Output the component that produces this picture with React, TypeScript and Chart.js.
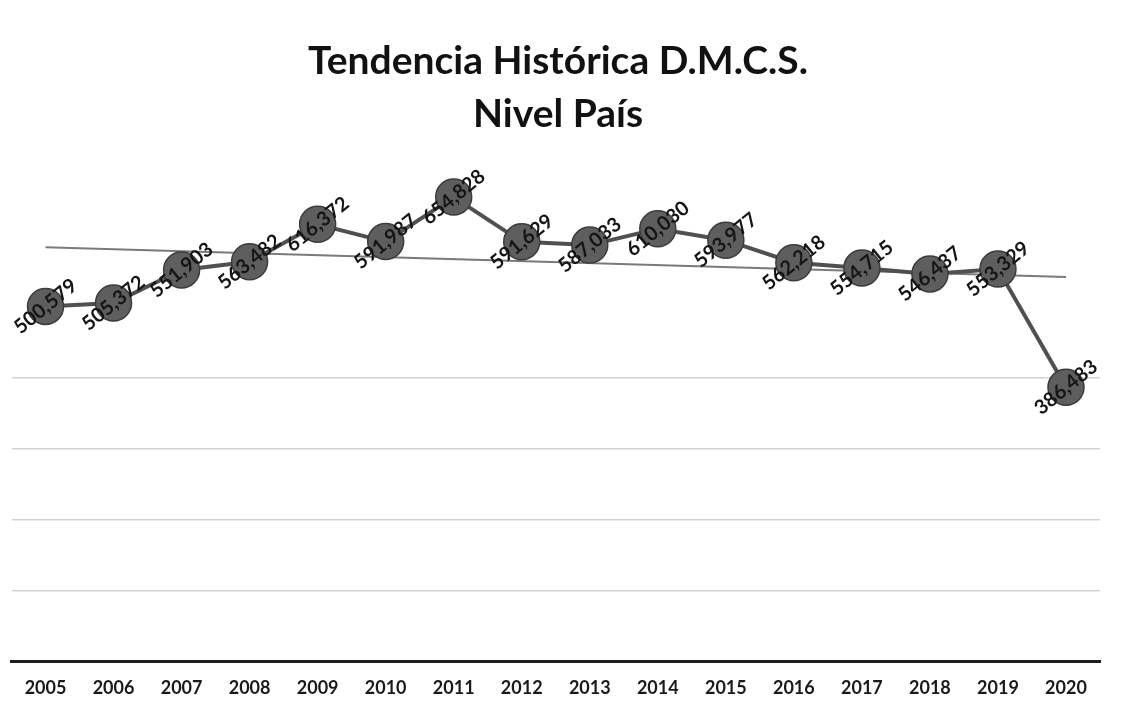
import React, { useEffect, useRef } from "react";
import { Chart, registerables } from "chart.js";

Chart.register(...registerables);

const years = ["2005","2006","2007","2008","2009","2010","2011","2012","2013","2014","2015","2016","2017","2018","2019","2020"];
const values = [500579, 505372, 551903, 563482, 616372, 591987, 654828, 591629, 587033, 610030, 593977, 562218, 554715, 546437, 553329, 386483];
const trendEnds = [584000, 542000];
const titleLines = ["Tendencia Histórica D.M.C.S.", "Nivel País"];

const fmt = (v: number) => v.toLocaleString("en-US");

const labelPlugin = {
  id: "rotLabels",
  afterDatasetsDraw(chart: any) {
    const ctx = chart.ctx;
    const meta = chart.getDatasetMeta(1);
    ctx.save();
    ctx.font = "bold 20px Lato, 'Open Sans', sans-serif";
    ctx.fillStyle = "#151515";
    ctx.textAlign = "center";
    ctx.textBaseline = "middle";
    meta.data.forEach((pt: any, i: number) => {
      ctx.save();
      ctx.translate(pt.x, pt.y);
      ctx.rotate(-39 * Math.PI / 180);
      ctx.fillText(fmt(values[i]), 0, 0);
      ctx.restore();
    });
    ctx.restore();
  },
};

const titlePlugin = {
  id: "twoLineTitle",
  afterDraw(chart: any) {
    const ctx = chart.ctx;
    ctx.save();
    ctx.font = "bold 39px Lato, 'Open Sans', sans-serif";
    ctx.fillStyle = "#111";
    ctx.textAlign = "center";
    ctx.textBaseline = "alphabetic";
    ctx.fillText(titleLines[0], 566, 74);
    ctx.fillText(titleLines[1], 566, 127);
    ctx.restore();
  },
};

export default function App() {
  const ref = useRef<HTMLCanvasElement>(null);
  useEffect(() => {
    if (!ref.current) return;
    const trend: (number | null)[] = years.map(() => null);
    trend[0] = trendEnds[0];
    trend[years.length - 1] = trendEnds[1];
    const chart = new Chart(ref.current, {
      type: "line",
      data: {
        labels: years,
        datasets: [
          {
            label: "Lineal",
            data: trend,
            spanGaps: true,
            borderColor: "#7a7a7a",
            borderWidth: 2,
            pointRadius: 0,
            order: 2,
          },
          {
            label: "D.M.C.S.",
            data: values,
            borderColor: "#505050",
            borderWidth: 4,
            pointRadius: 18,
            pointBackgroundColor: "#5e5e5e",
            pointBorderColor: "#3c3c3c",
            pointBorderWidth: 1.5,
            order: 1,
          },
        ],
      },
      options: {
        responsive: false,
        animation: false,
        layout: { padding: { left: 2, right: 32, top: 165, bottom: 4 } },
        plugins: {
          legend: { display: false },
          title: { display: false },
          tooltip: { enabled: false },
        },
        scales: {
          x: {
            offset: true,
            grid: { display: false },
            border: { display: true, color: "#1e1e1e", width: 3 },
            ticks: {
              color: "#1a1a1a",
              font: { family: "Lato, 'Open Sans', sans-serif", size: 18, weight: "bold" },
              padding: 8,
              maxRotation: 0,
              autoSkip: false,
            },
          },
          y: {
            min: 0,
            max: 700000,
            afterFit(scale: any) { scale.width = 0; },
            ticks: { display: false, stepSize: 100000 },
            border: { display: false },
            grid: {
              drawTicks: false,
              lineWidth: 1.5,
              color: (c: any) => {
                const v = c.tick ? c.tick.value : 0;
                return v > 0 && v <= 400000 ? "#d4d4d4" : "rgba(0,0,0,0)";
              },
            },
          },
        },
      },
      plugins: [labelPlugin, titlePlugin],
    });
    return () => chart.destroy();
  }, []);
  return (
    <div style={{ position: "absolute", left: 0, top: 0, width: 1132, height: 711, background: "#fff", overflow: "hidden" }}>
      <canvas ref={ref} width={1140} height={711} style={{ position: "absolute", left: -8, top: 0 }} />
    </div>
  );
}
